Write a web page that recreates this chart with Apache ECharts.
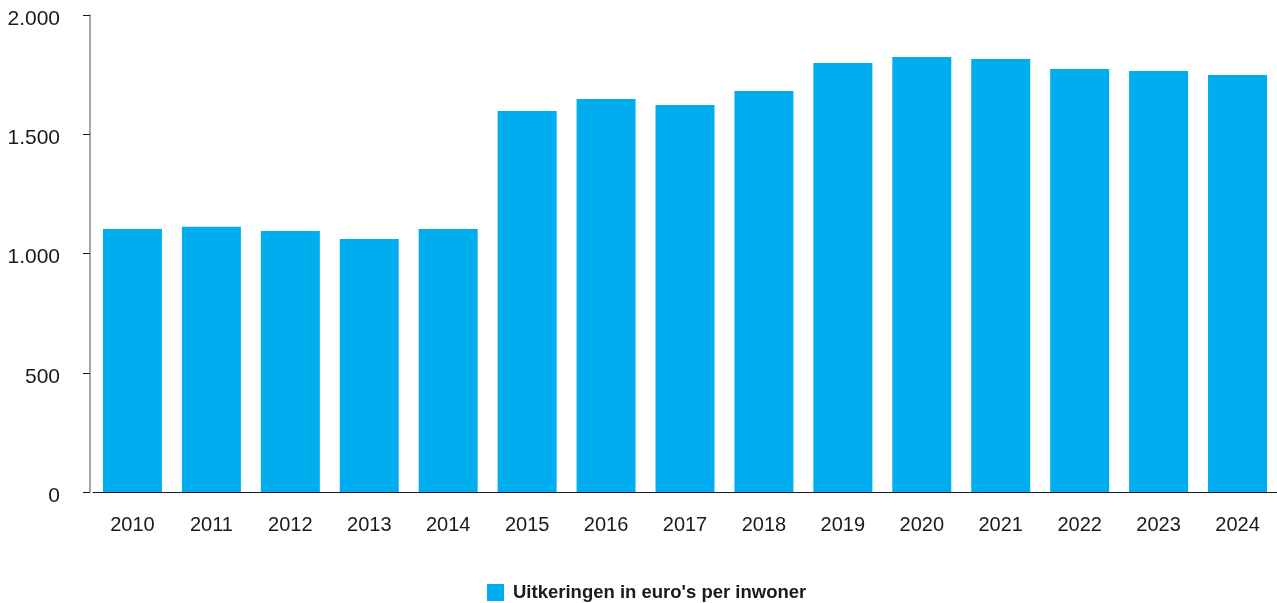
<!DOCTYPE html>
<html>
<head>
<meta charset="utf-8">
<script src="https://cdn.jsdelivr.net/npm/echarts@6/dist/echarts.min.js"></script>
<style>
html,body{margin:0;padding:0;background:#fff;}
#chart{width:1277px;height:603px;}
</style>
</head>
<body>
<div id="chart"></div>
<script>
const categories = ['2010','2011','2012','2013','2014','2015','2016','2017','2018','2019','2020','2021','2022','2023','2024'];
const values = [1103,1112,1094,1061,1103,1597,1648,1623,1681,1799,1824,1816,1774,1765,1748];
const seriesName = "Uitkeringen in euro's per inwoner";

function fmt(v){ return String(v).replace(/\B(?=(\d{3})+(?!\d))/g, '.'); }

const chart = echarts.init(document.getElementById('chart'), null, {renderer:'canvas'});
chart.setOption({
  animation:false,
  backgroundColor:'#ffffff',
  textStyle:{fontFamily:'Liberation Sans, Arial, sans-serif'},
  grid:{left:93, width:1187, top:15, bottom:111, containLabel:false},
  legend:{
    data:[seriesName], left:487, top:583, padding:0, itemWidth:17, itemHeight:17, itemGap:10,
    icon:'rect',
    textStyle:{fontSize:18.5, fontWeight:'bold', color:'#1a1a1a', padding:[0,0,0,4]}
  },
  xAxis:{
    type:'category', data:categories,
    axisLine:{show:true, lineStyle:{color:'#1a1a1a', width:1}},
    axisTick:{show:false},
    axisLabel:{fontSize:20, color:'#1a1a1a', margin:23}
  },
  yAxis:{
    type:'value', min:0, max:2000, interval:500, offset:3,
    axisLine:{show:true, lineStyle:{color:'#8a8a8a', width:1.5}},
    axisTick:{show:true, length:7, lineStyle:{color:'#1a1a1a'}},
    splitLine:{show:false},
    axisLabel:{fontSize:21, color:'#1a1a1a', margin:30, formatter:fmt, verticalAlign:'top', lineHeight:8}
  },
  series:[{
    name:seriesName, type:'bar', data:values, barWidth:59,
    itemStyle:{color:'#00AEEF'}
  }]
});
</script>
</body>
</html>
